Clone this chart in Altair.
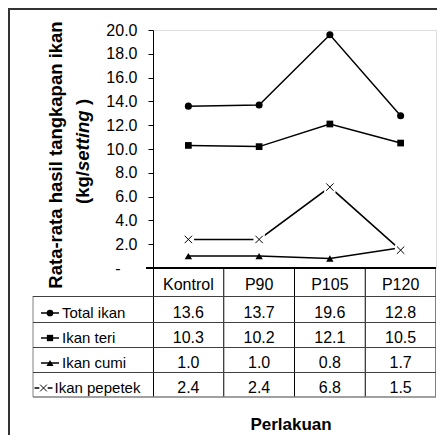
import altair as alt
import pandas as pd

# ---------------- data ----------------
categories = ["Kontrol", "P90", "P105", "P120"]
series_names = ["Total ikan", "Ikan teri", "Ikan cumi", "Ikan pepetek"]
total_ikan = [13.6, 13.7, 19.6, 12.8]
ikan_teri = [10.3, 10.2, 12.1, 10.5]
ikan_cumi = [1.0, 1.0, 0.8, 1.7]
ikan_pepetek = [2.4, 2.4, 6.8, 1.5]
y_tick_values = [0, 2, 4, 6, 8, 10, 12, 14, 16, 18, 20]
y_title_1 = "Rata-rata hasil tangkapan ikan"
y_title_2 = ["(kg/", "setting", ")"]
x_title = "Perlakuan"

values_by_series = [total_ikan, ikan_teri, ikan_cumi, ikan_pepetek]
rows = []
for s, vals in zip(series_names, values_by_series):
    for c, v in zip(categories, vals):
        rows.append({"series": s, "cat": c, "value": v, "label": f"{v:.1f}"})
df = pd.DataFrame(rows)
df_cat = pd.DataFrame({"cat": categories})
df_leg = pd.DataFrame({"series": series_names})
one = pd.DataFrame({"k": [0]})

# ---------------- layout ----------------
FONT = "Liberation Sans"
PW, PH = 283, 238
PAD = {"left": 145, "top": 22, "right": 1, "bottom": 167}
STEP = PW / 4
row_range = [288, 363]          # baselines of table rows
legend_text_x = [-91, -91, -91, -98.5]
legend_key_x = [-103, -103, -103, -109.5]

X = alt.X("cat:N", scale=alt.Scale(type="point", domain=categories, padding=0.5), axis=None)
Y = alt.Y(
    "value:Q",
    scale=alt.Scale(domain=[0, 20], nice=False, zero=True),
    axis=alt.Axis(
        values=y_tick_values,
        labelExpr="datum.value == 0 ? '-' : format(datum.value, '.1f')",
        tickSize=5,
        labelPadding={"condition": {"test": "datum.value == 0", "value": 28}, "value": 11},
        labelFontSize=16, labelFont=FONT,
        labelColor="black", tickColor="black", domainColor="black",
        grid=False, title=None, labelFlush=False, labelOverlap=False,
    ),
)
Ytab = alt.Y("series:N", scale=alt.Scale(type="point", domain=series_names, range=row_range, padding=0), axis=None)

# ---------------- plot layers ----------------
lines = alt.Chart(df).mark_line(color="black", strokeWidth=1.5).encode(x=X, y=Y, detail="series:N")

def pts(s, **kw):
    return alt.Chart(df).transform_filter(alt.datum.series == s).mark_point(opacity=1, **kw).encode(x=X, y=Y)

XSHAPE = "M-1,-1L1,1M-1,1L1,-1"
plot = alt.layer(
    lines,
    pts("Total ikan", shape="circle", filled=True, size=50, color="black"),
    pts("Ikan teri", shape="square", filled=True, size=45, color="black"),
    pts("Ikan cumi", shape="triangle-up", filled=True, size=55, color="black"),
    pts("Ikan pepetek", shape="square", filled=True, size=130, color="white"),
    pts("Ikan pepetek", shape=XSHAPE, filled=False, size=55, stroke="black", strokeWidth=1),
)

# ---------------- table / decoration ----------------
def rule(x1, x2, y1, y2, color="black", w=1):
    enc = {"x": alt.value(x1), "y": alt.value(y1)}
    if x2 is not None:
        enc["x2"] = alt.value(x2)
    if y2 is not None:
        enc["y2"] = alt.value(y2)
    return alt.Chart(one).mark_rule(color=color, strokeWidth=w).encode(**enc)

deco = [
    # outer border (left & top)
    rule(-144, None, -21, 420, "#333333", 2),
    rule(-145, PW + 5, -21, None, "#333333", 2),
    # table verticals
    rule(0.5, None, 238, 367, "black"),
    rule(STEP, None, 238, 367, "black"),
    rule(2 * STEP, None, 238, 367, "black"),
    rule(3 * STEP, None, 238, 367, "black"),
    rule(PW - 0.5, None, 238, 367, "#808080"),
    rule(-120, None, 266, 367, "#808080"),
    # table horizontals
    rule(-120, PW, 266.5, None, "#404040"),
    rule(-120, PW, 292.5, None, "#404040"),
    rule(-120, PW, 317.5, None, "#404040"),
    rule(-120, PW, 342.5, None, "#404040"),
    rule(-120, PW, 367, None, "#808080", 1.5),
    # bottom axis line
    rule(-7, PW, 238, None, "black", 2),
]

header = alt.Chart(df_cat).mark_text(
    font=FONT, fontSize=16, color="black", align="center", baseline="alphabetic"
).encode(x=X, y=alt.value(260), text="cat:N")

values_text = alt.Chart(df).mark_text(
    font=FONT, fontSize=16, color="black", align="center", baseline="alphabetic"
).encode(x=X, y=Ytab, text="label:N")

legend_layers = []
marker_styles = [
    dict(shape="circle", filled=True, size=45, color="black"),
    dict(shape="square", filled=True, size=40, color="black"),
    dict(shape="triangle-up", filled=True, size=50, color="black"),
    None,
]
for i, s in enumerate(series_names):
    base = alt.Chart(df_leg).transform_filter(alt.datum.series == s)
    legend_layers.append(
        base.mark_text(font=FONT, fontSize=15, color="black", align="left", baseline="alphabetic")
        .encode(x=alt.value(legend_text_x[i]), y=Ytab, text="series:N")
    )
    kx = legend_key_x[i]
    legend_layers.append(
        base.mark_rule(color="black", strokeWidth=1.5, yOffset=-5)
        .encode(x=alt.value(kx - 9), x2=alt.value(kx + 9), y=Ytab)
    )
    if marker_styles[i] is not None:
        legend_layers.append(
            base.mark_point(opacity=1, yOffset=-5, **marker_styles[i]).encode(x=alt.value(kx), y=Ytab)
        )
    else:
        legend_layers.append(
            base.mark_point(opacity=1, yOffset=-5, shape="square", filled=True, size=70, color="white")
            .encode(x=alt.value(kx), y=Ytab)
        )
        legend_layers.append(
            base.mark_point(opacity=1, yOffset=-5, shape=XSHAPE, filled=False, size=45, stroke="black", strokeWidth=1)
            .encode(x=alt.value(kx), y=Ytab)
        )

TS = 18.5
title1 = alt.Chart(one).mark_text(
    text=y_title_1, font=FONT, fontSize=TS, fontWeight="bold", angle=270,
    align="center", baseline="alphabetic", color="black"
).encode(x=alt.value(-91), y=alt.value(125))
t2a = alt.Chart(one).mark_text(
    text=y_title_2[0], font=FONT, fontSize=TS, fontWeight="bold", angle=270,
    align="left", baseline="alphabetic", color="black"
).encode(x=alt.value(-64), y=alt.value(174))
t2b = alt.Chart(one).mark_text(
    text=y_title_2[1], font=FONT, fontSize=TS, fontWeight="bold", fontStyle="italic", angle=270,
    align="left", baseline="alphabetic", color="black"
).encode(x=alt.value(-64), y=alt.value(141))
t2c = alt.Chart(one).mark_text(
    text=y_title_2[2], font=FONT, fontSize=TS, fontWeight="bold", angle=270,
    align="left", baseline="alphabetic", color="black"
).encode(x=alt.value(-64), y=alt.value(75))
xt = alt.Chart(one).mark_text(
    text=x_title, font=FONT, fontSize=17, fontWeight="bold",
    align="center", baseline="alphabetic", color="black"
).encode(x=alt.value(138), y=alt.value(400))

table = alt.layer(*deco, header, values_text, *legend_layers, title1, t2a, t2b, t2c, xt)

chart = (
    alt.layer(plot, table)
    .resolve_scale(y="independent")
    .properties(width=PW, height=PH, padding=PAD, autosize=alt.AutoSizeParams(type="none"), background="white")
    .configure_view(stroke="#404040", strokeWidth=1)
    .configure(font=FONT)
)

chart.save("out.html", embed_options={"renderer": "svg", "actions": False})
